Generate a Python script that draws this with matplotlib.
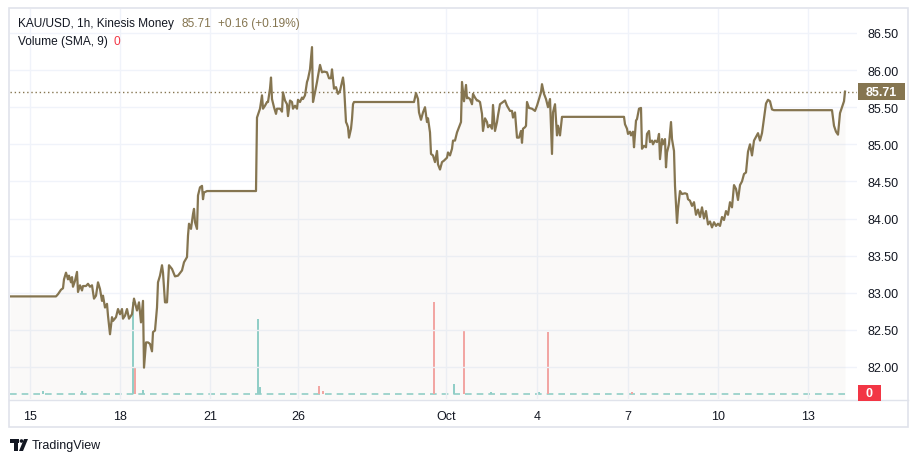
import numpy as np
import matplotlib.pyplot as plt
from matplotlib.patches import Rectangle, Polygon, Circle

plt.rcParams['font.family'] = ['Liberation Sans', 'DejaVu Sans']

# ---- data (bar index ~ hourly bars, close price) ----
bars = [
    10, 56, 58, 61, 63, 64, 66, 68, 69, 71, 72, 73, 75, 77, 78, 80, 82, 83, 86, 88,
    90, 92, 94, 96, 98, 100, 102, 103, 105, 107, 108, 110, 112, 113, 116, 118, 120, 122, 123, 125,
    127, 129, 132, 134, 137, 139, 141, 143, 144, 146, 148, 150, 152, 153, 155, 157, 158, 160, 162, 163,
    165, 167, 169, 172, 175, 178, 182, 184, 187, 188, 189, 191, 193, 194, 195, 197, 198, 200, 202, 203,
    204, 207,
    256, 257, 260, 262, 263, 265, 267, 268, 270, 271, 272, 274, 276, 277, 280, 282, 283, 285, 287, 288,
    290, 292, 293, 295, 297, 298, 300, 302, 303, 305, 307, 308, 310, 312, 313, 315, 317, 318, 320, 322,
    324, 327, 329, 331, 332, 334, 336, 338, 340, 343, 344, 346, 347, 348, 349, 351, 352, 353, 354,
    414, 416, 418, 419, 421, 423, 425, 427, 428, 430, 431, 433, 435, 437, 438, 440, 442, 444, 447, 448,
    450, 452, 453, 455, 457, 459, 461, 462, 464, 466, 467, 468, 470, 472, 473, 475, 477, 478, 480, 482,
    483, 485, 487, 488, 490, 492, 493, 495, 497, 498, 500, 503, 505, 507, 510, 512, 513, 515, 517, 519,
    521, 522, 523, 525, 526, 527, 529, 532, 535, 537, 539, 541, 542, 544, 546, 548, 550, 552, 553, 555,
    557, 558, 560, 562,
    624, 625, 627, 628, 630, 631, 633, 634, 636, 637, 639, 641, 642, 644, 646, 647, 649, 650, 652, 653,
    655, 657, 658, 659, 660, 662, 663, 665, 666, 667, 669, 671, 672, 674, 675, 677, 678, 680, 682, 685,
    687, 688, 690, 692, 694, 696, 698, 700, 702, 704, 706, 708, 710, 712, 714, 716, 718, 720, 722, 724,
    726, 728, 730, 732, 734, 736, 738, 740, 742, 744, 746, 748, 750, 752, 754, 756, 758, 760, 762, 764,
    766, 768, 770, 772, 774, 832, 834, 836, 838, 840, 842, 844, 845,
]
close = [
    82.95, 82.95, 82.98, 83.04, 83.06, 83.18, 83.27, 83.18, 83.23, 83.14, 83.21, 83.08, 83.16, 83.28, 83.01, 83.10, 83.03, 83.09, 83.09, 83.12,
    83.08, 83.10, 82.92, 82.96, 83.14, 83.05, 82.89, 82.96, 82.80, 82.85, 82.69, 82.44, 82.67, 82.62, 82.67, 82.78, 82.71, 82.78, 82.65, 82.69,
    82.78, 82.65, 82.71, 82.92, 82.76, 82.87, 82.60, 82.89, 81.99, 82.33, 82.33, 82.31, 82.21, 82.47, 82.49, 82.80, 83.14, 83.23, 83.37, 83.27,
    82.87, 82.87, 83.37, 83.32, 83.22, 83.23, 83.30, 83.41, 83.48, 83.77, 83.93, 83.86, 84.06, 84.13, 83.95, 83.86, 84.31, 84.42, 84.44, 84.26,
    84.35, 84.37,
    84.37, 85.36, 85.48, 85.66, 85.48, 85.52, 85.57, 85.57, 85.75, 85.90, 85.61, 85.50, 85.41, 85.48, 85.48, 85.44, 85.70, 85.59, 85.54, 85.38,
    85.59, 85.57, 85.48, 85.52, 85.48, 85.60, 85.57, 85.63, 85.61, 85.66, 85.84, 85.88, 86.01, 86.31, 85.57, 85.70, 85.84, 85.92, 86.07, 85.97,
    85.98, 85.97, 85.89, 85.89, 86.01, 85.75, 85.77, 85.68, 85.72, 85.90, 85.79, 85.30, 85.27, 85.23, 85.09, 85.21, 85.34, 85.54, 85.57,
    85.57, 85.69, 85.61, 85.43, 85.33, 85.43, 85.50, 85.30, 85.35, 85.16, 84.87, 84.85, 84.76, 84.91, 84.73, 84.66, 84.76, 84.78, 84.82, 84.89,
    84.85, 84.94, 85.05, 85.05, 85.16, 85.23, 85.30, 85.84, 85.58, 85.80, 85.62, 85.63, 85.61, 85.54, 85.68, 85.63, 85.59, 85.59, 85.57, 85.41,
    85.18, 85.35, 85.30, 85.23, 85.26, 85.21, 85.53, 85.18, 85.30, 85.39, 85.54, 85.57, 85.59, 85.52, 85.45, 85.45, 85.36, 85.43, 85.09, 85.09,
    85.18, 85.02, 85.21, 85.23, 85.25, 85.57, 85.49, 85.48, 85.45, 85.52, 85.61, 85.70, 85.81, 85.68, 85.61, 85.50, 85.61, 84.87, 85.43, 85.54,
    85.12, 85.25, 85.12, 85.37,
    85.37, 85.27, 85.21, 85.14, 85.17, 85.12, 85.17, 84.96, 85.32, 85.34, 85.48, 85.49, 84.94, 84.98, 84.96, 85.14, 85.18, 85.03, 85.05, 85.00,
    85.05, 85.03, 85.07, 85.14, 84.80, 85.07, 85.00, 85.07, 84.69, 84.89, 85.00, 85.30, 85.07, 84.91, 84.44, 83.94, 84.13, 84.37, 84.33, 84.34,
    84.33, 84.26, 84.24, 84.17, 84.22, 84.05, 84.12, 84.02, 84.15, 84.00, 84.10, 83.92, 83.96, 83.88, 83.95, 83.90, 83.93, 83.90, 84.02, 83.98,
    84.10, 84.05, 84.22, 84.15, 84.45, 84.40, 84.25, 84.45, 84.50, 84.60, 84.62, 84.90, 85.00, 84.85, 85.05, 85.10, 85.15, 85.05, 85.15, 85.35,
    85.55, 85.60, 85.58, 85.47, 85.46, 85.46, 85.25, 85.17, 85.13, 85.42, 85.50, 85.58, 85.71,
]
assert len(bars) == len(close)

last_price = 85.71
change_text = '+0.16 (+0.19%)'
price_ticks = [82.0, 82.5, 83.0, 83.5, 84.0, 84.5, 85.0, 85.5, 86.0, 86.5]
time_tick_bars = [30, 120, 210, 298, 446, 537, 628, 718, 808]
time_tick_labels = ['15', '18', '21', '26', 'Oct', '4', '7', '10', '13']

# notable volume bars (bar index, relative volume, up/down)
vol_bars = [43, 82, 133, 135, 143, 258, 260, 319, 323, 434, 454, 464, 491, 539, 548, 632]
vol_vals = [3, 3, 92, 27, 4, 75, 7, 8, 3, 92, 10, 63, 2, 2, 62, 2]
vol_up = [True, True, True, False, True, True, True, False, False, False, True, False, True, True, False, False]

# ---- style ----
line_col = '#857550'
text_col = '#131722'
grid_col = '#f0f3fa'
border_col = '#e0e3eb'
up_col = '#92d2cc'
down_col = '#f7a9a7'
red_lbl = '#f23645'

W, H = 918, 464
fig = plt.figure(figsize=(W / 100, H / 100), dpi=100, facecolor='white')

def px_rect(x0, y0, x1, y1):
    # figure pixel box (top-left origin) -> axes rect
    return [x0 / W, 1 - y1 / H, (x1 - x0) / W, (y1 - y0) / H]

# overlay for frame
deco = fig.add_axes([0, 0, 1, 1])
deco.set_xlim(0, W)
deco.set_ylim(H, 0)
deco.axis('off')
deco.set_zorder(-1)
deco.add_patch(Rectangle((9, 9), 899, 419, facecolor='white', edgecolor=border_col, linewidth=1.2))
deco.plot([9, 908], [400.5, 400.5], color=border_col, linewidth=1.0)

# price pane
ax = fig.add_axes(px_rect(10, 10, 857, 400))
y_top = 86.5 + 24 / 74.2
y_bot = 86.5 - 366 / 74.2

# volume overlay in the same pane
vax = ax.twinx()
vax.set_ylim(-5, 385)
vax.set_xlim(10, 857)
vax.axis('off')
vax.axhline(0, color=up_col, linewidth=1.2, linestyle=(0, (4, 3)), xmax=(845 - 10) / 847)
vax.bar(vol_bars, vol_vals, width=1.3,
        color=[up_col if u else down_col for u in vol_up], zorder=2)

ax.set_xlim(10, 857)
ax.set_ylim(y_bot, y_top)
ax.set_yticks(price_ticks)
ax.set_yticklabels([f'{p:.2f}' for p in price_ticks])
ax.yaxis.tick_right()
ax.yaxis.set_label_position('right')
ax.tick_params(axis='y', length=0, pad=7.5, labelsize=9, labelcolor=text_col)
ax.set_xticks(time_tick_bars)
ax.set_xticklabels(time_tick_labels)
ax.tick_params(axis='x', length=0, pad=8, labelsize=9, labelcolor=text_col)
ax.grid(True, color=grid_col, linewidth=1.0)
ax.set_axisbelow(True)
for s in ax.spines.values():
    s.set_visible(False)

# area + line on top of the volume
ax.set_zorder(vax.get_zorder() + 1)
ax.patch.set_visible(False)
ax.fill_between(bars, close, y_bot, color=line_col, alpha=0.04, linewidth=0, zorder=1)
ax.plot(bars, close, color=line_col, linewidth=1.6, solid_joinstyle='round', zorder=3)
ax.axhline(last_price, color=line_col, linewidth=1.0, linestyle=(0, (1, 2)), zorder=2)

# labels on the price scale + legend texts
lbl = fig.add_axes([0, 0, 1, 1], zorder=10)
lbl.set_xlim(0, W)
lbl.set_ylim(H, 0)
lbl.axis('off')
y_last = 34 + (86.5 - last_price) * 74.2
lbl.add_patch(Rectangle((858, y_last - 8.5), 47, 17, facecolor=line_col, edgecolor='none'))
lbl.text(881.5, y_last + 0.5, f'{last_price:.2f}', color='white', fontsize=9,
         fontweight='bold', ha='center', va='center')
lbl.add_patch(Rectangle((858, 386), 23, 16, facecolor=red_lbl, edgecolor='none'))
lbl.text(869.5, 394.5, '0', color='white', fontsize=9, fontweight='bold', ha='center', va='center')

renderer = fig.canvas.get_renderer()

def row(x, y, parts, gap):
    for s, c in parts:
        t = lbl.text(x, y, s, color=c, fontsize=8.6, va='center')
        x += t.get_window_extent(renderer).width + gap

row(18, 24, [('KAU/USD, 1h, Kinesis Money', text_col), (f'{last_price:.2f}', line_col),
             (change_text, line_col)], 7)
row(18, 42, [('Volume (SMA, 9)', text_col), ('0', red_lbl)], 6)

# TradingView logo
lbl.add_patch(Rectangle((10, 440), 9, 3.5, facecolor=text_col, edgecolor='none'))
lbl.add_patch(Rectangle((14, 440), 4, 12, facecolor=text_col, edgecolor='none'))
lbl.add_patch(Circle((21.5, 442), 1.8, facecolor=text_col, edgecolor='none'))
lbl.add_patch(Polygon([(24, 440), (28, 440), (23, 452), (19, 452)], facecolor=text_col, edgecolor='none'))
lbl.text(32, 446.5, 'TradingView', color=text_col, fontsize=9.0, va='center')

fig.savefig('out.png', dpi=100, facecolor='white')
